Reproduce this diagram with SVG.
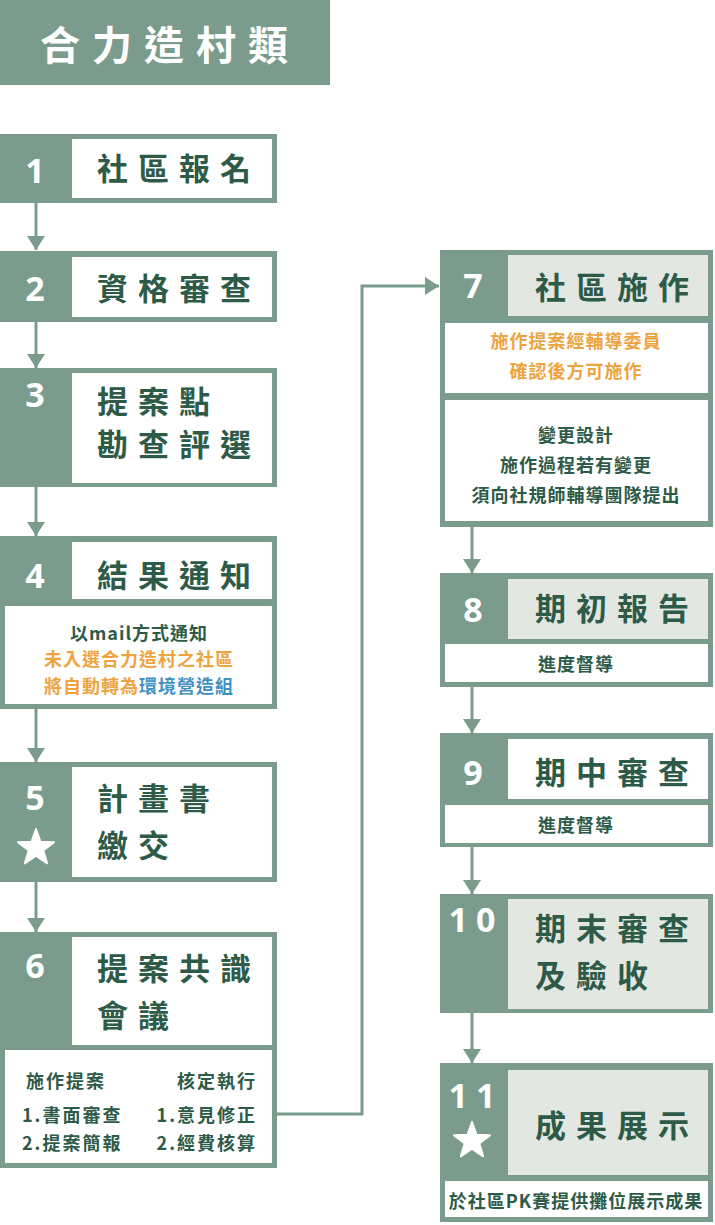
<svg xmlns="http://www.w3.org/2000/svg" width="715" height="1225" viewBox="0 0 715 1225">
<style>
.g{fill:#7b9c8d}
.w{fill:#ffffff}
.l{fill:#e3e7e2}
.num{font-family:"Open Sans","Noto Sans",sans-serif;font-weight:700;font-size:34px;fill:#ffffff;text-anchor:middle}
.hd{font-family:"Noto Sans CJK TC","Noto Sans",sans-serif;font-weight:700;font-size:31px;fill:#2e5b47;letter-spacing:10px}
.sm{font-family:"Noto Sans CJK TC","Noto Sans",sans-serif;font-weight:700;font-size:18px;fill:#2e5b47;letter-spacing:1px;text-anchor:middle}
.bd{font-family:"Noto Sans CJK TC","Noto Sans",sans-serif;font-weight:700;font-size:18px;fill:#2e5b47;letter-spacing:2px}
.or{fill:#eda43f}
.bl{fill:#3f90c3}
.ttl{font-family:"Noto Sans CJK TC","Noto Sans",sans-serif;font-weight:700;font-size:40px;fill:#ffffff;letter-spacing:12px}
.cn{fill:none;stroke:#7b9c8d;stroke-width:3}
</style>
<defs>
<marker id="ah" viewBox="0 0 14 18" refX="14" refY="9" markerWidth="14" markerHeight="18" markerUnits="userSpaceOnUse" orient="auto">
<path d="M0,0 L14,9 L0,18 Z" fill="#7b9c8d"/>
</marker>
<path id="star" d="M0,-19 L4.47,-6.15 L18.07,-5.87 L7.23,2.35 L11.17,15.37 L0,7.6 L-11.17,15.37 L-7.23,2.35 L-18.07,-5.87 L-4.47,-6.15 Z" fill="#ffffff" stroke="#ffffff" stroke-width="2" stroke-linejoin="round"/>
</defs>
<rect width="715" height="1225" fill="#ffffff"/>

<g id="title">
<rect x="0" y="0" width="330" height="85" class="g"/>
<text x="40" y="60" class="ttl">合力造村類</text>
</g>

<g id="connectors">
<line x1="36" y1="203" x2="36" y2="250" class="cn" marker-end="url(#ah)"/>
<line x1="36" y1="322" x2="36" y2="368" class="cn" marker-end="url(#ah)"/>
<line x1="36" y1="487" x2="36" y2="536" class="cn" marker-end="url(#ah)"/>
<line x1="36" y1="709" x2="36" y2="762" class="cn" marker-end="url(#ah)"/>
<line x1="36" y1="882" x2="36" y2="932" class="cn" marker-end="url(#ah)"/>
<polyline points="277,1114 362,1114 362,286 439,286" class="cn" marker-end="url(#ah)"/>
<line x1="472" y1="527" x2="472" y2="573" class="cn" marker-end="url(#ah)"/>
<line x1="472" y1="687" x2="472" y2="733" class="cn" marker-end="url(#ah)"/>
<line x1="472" y1="847" x2="472" y2="894" class="cn" marker-end="url(#ah)"/>
<line x1="472" y1="1013" x2="472" y2="1063" class="cn" marker-end="url(#ah)"/>
</g>

<g id="node1">
<rect x="0" y="134" width="277" height="69" class="g"/>
<rect x="72" y="139" width="200" height="59" class="w"/>
<text x="35" y="183" class="num">1</text>
<text x="97" y="180" class="hd">社區報名</text>
</g>

<g id="node2">
<rect x="0" y="251" width="277" height="71" class="g"/>
<rect x="72" y="257" width="200" height="60" class="w"/>
<text x="35" y="301" class="num">2</text>
<text x="97" y="300" class="hd">資格審查</text>
</g>

<g id="node3">
<rect x="0" y="368" width="277" height="119" class="g"/>
<rect x="72" y="373" width="200" height="110" class="w"/>
<text x="35" y="407" class="num">3</text>
<text x="97" y="413" class="hd">提案點</text>
<text x="97" y="456" class="hd">勘查評選</text>
</g>

<g id="node4">
<rect x="0" y="536" width="277" height="173" class="g"/>
<rect x="72" y="542" width="200" height="57" class="w"/>
<rect x="5" y="606" width="267" height="98" class="w"/>
<text x="35" y="588" class="num">4</text>
<text x="97" y="587" class="hd">結果通知</text>
<text x="139" y="640" class="sm">以mail方式通知</text>
<text x="139" y="666" class="sm or">未入選合力造村之社區</text>
<text x="139" y="693" class="sm"><tspan class="or">將自動轉為</tspan><tspan class="bl">環境營造組</tspan></text>
</g>

<g id="node5">
<rect x="0" y="762" width="277" height="120" class="g"/>
<rect x="72" y="767" width="200" height="110" class="w"/>
<text x="35" y="810" class="num">5</text>
<use href="#star" x="36" y="848"/>
<text x="97" y="810" class="hd">計畫書</text>
<text x="97" y="857" class="hd">繳交</text>
</g>

<g id="node6">
<rect x="0" y="932" width="277" height="236" class="g"/>
<rect x="72" y="937" width="200" height="108" class="w"/>
<rect x="5" y="1050" width="267" height="113" class="w"/>
<text x="35" y="978" class="num">6</text>
<text x="97" y="980" class="hd">提案共識</text>
<text x="97" y="1027" class="hd">會議</text>
<text x="26" y="1088" class="bd">施作提案</text>
<text x="257" y="1088" class="bd" text-anchor="end">核定執行</text>
<text x="22" y="1122" class="bd">1.書面審查</text>
<text x="257" y="1122" class="bd" text-anchor="end">1.意見修正</text>
<text x="22" y="1150" class="bd">2.提案簡報</text>
<text x="257" y="1150" class="bd" text-anchor="end">2.經費核算</text>
</g>

<g id="node7">
<rect x="440" y="250" width="273" height="277" class="g"/>
<rect x="508" y="255" width="200" height="61" class="l"/>
<rect x="445" y="323" width="263" height="70" class="w"/>
<rect x="445" y="400" width="263" height="121" class="w"/>
<text x="473" y="298" class="num">7</text>
<text x="535" y="299" class="hd">社區施作</text>
<text x="576" y="348" class="sm or">施作提案經輔導委員</text>
<text x="576" y="378" class="sm or">確認後方可施作</text>
<text x="576" y="442" class="sm">變更設計</text>
<text x="576" y="472" class="sm">施作過程若有變更</text>
<text x="576" y="502" class="sm">須向社規師輔導團隊提出</text>
</g>

<g id="node8">
<rect x="440" y="573" width="273" height="114" class="g"/>
<rect x="508" y="579" width="200" height="60" class="l"/>
<rect x="445" y="644" width="263" height="38" class="w"/>
<text x="473" y="622" class="num">8</text>
<text x="535" y="620" class="hd">期初報告</text>
<text x="576" y="671" class="sm">進度督導</text>
</g>

<g id="node9">
<rect x="440" y="733" width="273" height="114" class="g"/>
<rect x="508" y="739" width="200" height="60" class="w"/>
<rect x="445" y="805" width="263" height="38" class="w"/>
<text x="473" y="785" class="num">9</text>
<text x="535" y="784" class="hd">期中審查</text>
<text x="576" y="832" class="sm">進度督導</text>
</g>

<g id="node10">
<rect x="440" y="894" width="273" height="119" class="g"/>
<rect x="508" y="899" width="200" height="110" class="l"/>
<text x="476" y="932" class="num" letter-spacing="8">10</text>
<text x="535" y="940" class="hd">期末審查</text>
<text x="535" y="987" class="hd">及驗收</text>
</g>

<g id="node11">
<rect x="440" y="1063" width="273" height="159" class="g"/>
<rect x="508" y="1070" width="200" height="105" class="l"/>
<rect x="445" y="1181" width="263" height="36" class="w"/>
<text x="476" y="1108" class="num" letter-spacing="8">11</text>
<use href="#star" x="472" y="1141"/>
<text x="535" y="1137" class="hd">成果展示</text>
<text x="576" y="1208" class="sm" letter-spacing="0">於社區PK賽提供攤位展示成果</text>
</g>
</svg>
